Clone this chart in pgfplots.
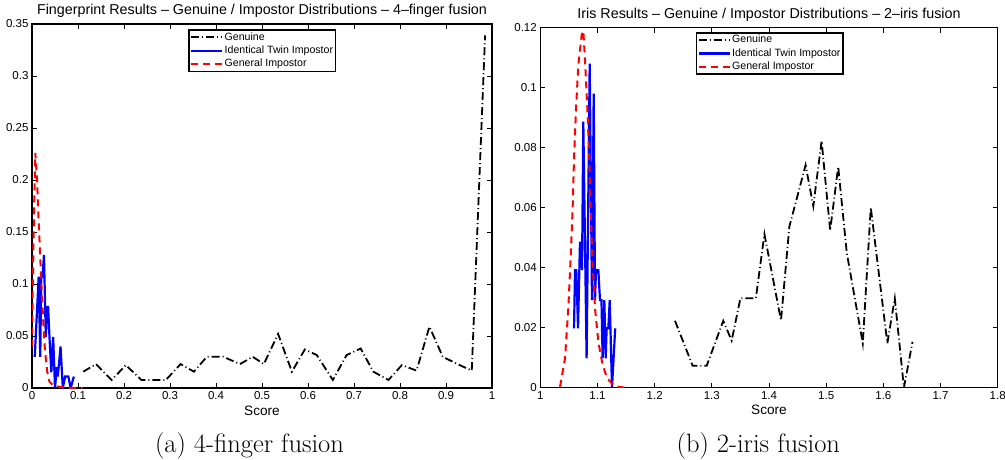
\documentclass[border=0pt]{standalone}
\usepackage{pgfplots}
\pgfplotsset{compat=1.18}
\usepackage{fontspec}
\newfontfamily\helv{Liberation Sans}
\definecolor{mblue}{RGB}{0,0,255}
\definecolor{mred}{RGB}{255,0,0}

\pgfplotsset{
  matfig/.style={
    scale only axis,
    font=\helv\fontsize{11.5}{13}\selectfont,
    axis line style={line width=1.4pt},
    major tick style={line width=0.7pt, black},
    tick align=inside,
    major tick length=5pt,
    scaled ticks=false,
    /pgf/number format/assume math mode=true,
    /pgf/number format/fixed,
    /pgf/number format/precision=2,
    every axis title shift=0pt,
    title style={at={(0.5,1)}, anchor=base, yshift=9.5pt, font=\helv\fontsize{14.3}{16}\selectfont},
    xlabel style={at={(0.5,0)}, anchor=base, yshift=-27pt, font=\helv\fontsize{13.6}{15}\selectfont},
    xlabel={Score},
    legend cell align=left,
    legend image code/.code={\draw[##1] (0pt,0pt) -- (31pt,0pt);},
    legend style={anchor=north west, draw=black, line width=1.2pt,
      inner xsep=1pt, inner ysep=1pt, row sep=0.8pt,
      font=\helv\fontsize{10.6}{12}\selectfont,
      nodes={text height=7.5pt, text depth=2pt, inner sep=1.5pt}},
  },
  gen/.style={black, line width=1.8pt, dash pattern=on 8pt off 3pt on 1pt off 3pt},
  twin/.style={mblue, line width=2.2pt},
  genimp/.style={mred, line width=2pt, dash pattern=on 7pt off 5pt},
}

\begin{document}
\begin{tikzpicture}
\useasboundingbox (0pt,0pt) rectangle (1005pt,459pt);

% (a) fingerprint
\begin{axis}[matfig,
  at={(32pt,71pt)}, anchor=south west,
  width=460pt, height=364pt,
  xmin=0, xmax=1, ymin=0, ymax=0.35,
  xtick={0,0.1,...,1}, ytick={0,0.05,...,0.35},
  title={Fingerprint Results – Genuine / Impostor Distributions – 4–finger fusion},
  legend style={at={(rel axis cs:0.34,0.985)}},
]
\addplot[gen] coordinates {
  (0.1116,0.0157) (0.139,0.023) (0.173,0.0077) (0.204,0.022) (0.238,0.0077)
  (0.291,0.0077) (0.323,0.023) (0.352,0.0157) (0.38,0.030) (0.416,0.030)
  (0.452,0.023) (0.48,0.030) (0.504,0.023) (0.535,0.052) (0.565,0.0157)
  (0.593,0.037) (0.619,0.0317) (0.654,0.0077) (0.684,0.0317) (0.7145,0.038)
  (0.742,0.0157) (0.775,0.0077) (0.804,0.022) (0.836,0.0167) (0.864,0.059)
  (0.893,0.030) (0.925,0.023) (0.956,0.0167) (0.985,0.339)
};
\addplot[twin] coordinates {
  (0.006,0.030) (0.0145,0.107) (0.018,0.030) (0.020,0.107) (0.023,0.107)
  (0.026,0.128) (0.030,0.049) (0.033,0.078) (0.035,0.078) (0.038,0.049)
  (0.042,0.015) (0.046,0.049) (0.050,0) (0.054,0.020) (0.056,0.011)
  (0.058,0.020) (0.062,0.040) (0.067,0) (0.072,0.011) (0.079,0.011)
  (0.084,0) (0.091,0.011)
};
\addplot[genimp] coordinates {
  (0,0.04) (0.002,0.104) (0.0043,0.168) (0.0072,0.226) (0.011,0.2)
  (0.014,0.165) (0.0175,0.13) (0.021,0.094) (0.025,0.06) (0.028,0.037)
  (0.033,0.016) (0.038,0.006) (0.045,0.003) (0.055,0.0015) (0.07,0.0005)
  (0.09,0) (0.11,0)
};
\legend{Genuine, Identical Twin Impostor, General Impostor}
\end{axis}

% (b) iris
\begin{axis}[matfig,
  at={(540.3pt,71.3pt)}, anchor=south west,
  width=457.4pt, height=360pt,
  xmin=1, xmax=1.8, ymin=0, ymax=0.12,
  xtick={1,1.1,...,1.8}, ytick={0,0.02,...,0.12},
  title={Iris Results – Genuine / Impostor Distributions – 2–iris fusion},
  legend style={at={(rel axis cs:0.34,0.987)}},
]
\addplot[gen] coordinates {
  (1.2356,0.0223) (1.2665,0.0073) (1.291,0.0073) (1.320,0.0223) (1.3347,0.0157)
  (1.350,0.0298) (1.377,0.0298) (1.392,0.0512) (1.421,0.0224) (1.4356,0.0537)
  (1.464,0.0742) (1.4775,0.0605) (1.492,0.0823) (1.507,0.0524) (1.521,0.0737)
  (1.536,0.045) (1.564,0.0148) (1.578,0.0601) (1.607,0.0148) (1.620,0.0298)
  (1.636,0) (1.651,0.0153)
};
\addplot[twin] coordinates {
  (1.059,0.0198) (1.0607,0.0392) (1.063,0.0392) (1.066,0.0198) (1.0694,0.0487)
  (1.073,0.0392) (1.0752,0.0887) (1.081,0.0098) (1.0864,0.108) (1.0904,0.0292)
  (1.0934,0.098) (1.0957,0.0292) (1.0974,0.0392) (1.1015,0.0392) (1.1044,0.0292)
  (1.107,0.0292) (1.109,0.0098) (1.112,0.0292) (1.1144,0.0098) (1.116,0.0198)
  (1.119,0.0198) (1.1214,0.0292) (1.1254,0) (1.131,0.0198)
};
\addplot[genimp] coordinates {
  (1.0345,0.0003) (1.0432,0.0098) (1.049,0.0265) (1.053,0.043) (1.0566,0.060)
  (1.059,0.0765) (1.0625,0.093) (1.0665,0.1076) (1.0724,0.1176) (1.0752,0.119)
  (1.078,0.11) (1.0823,0.093) (1.0857,0.0765) (1.088,0.060) (1.091,0.043)
  (1.0957,0.0265) (1.1015,0.0153) (1.109,0.0076) (1.117,0.0031) (1.1277,0.0009)
  (1.136,0.0003) (1.15,0)
};
\legend{Genuine, Identical Twin Impostor, General Impostor}
\end{axis}

\node[anchor=base, font=\fontsize{26.5}{31}\selectfont] at (249.5pt,7pt) {(a) 4-finger fusion};
\node[anchor=base, font=\fontsize{26.5}{31}\selectfont] at (758.3pt,7pt) {(b) 2-iris fusion};
\end{tikzpicture}
\end{document}
